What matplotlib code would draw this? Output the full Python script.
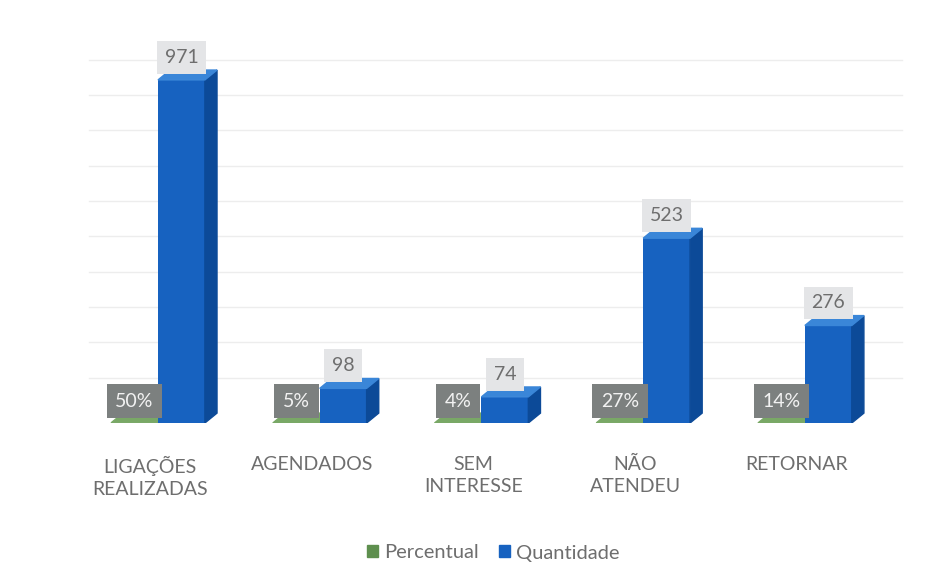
#!/usr/bin/env python3

import numpy as np
import matplotlib as mpl
mpl.use('Agg')
import matplotlib.pyplot as plt
from matplotlib.patches import Polygon, Patch

################################################################################

categorias = ["LIGAÇÕES\nREALIZADAS", "AGENDADOS", "SEM\nINTERESSE", "NÃO\nATENDEU", "RETORNAR"]
percentual = [50, 5, 4, 27, 14]           # em %
quantidade = [971, 98, 74, 523, 276]
grade = np.arange(100, 1100, 100)

################################################################################

plt.rcParams['font.family'] = ['Lato', 'DejaVu Sans']

azul = dict(front='#1762c0', side='#0c4a98', top='#3a86d8')
verde = dict(front='#5e8f4e', side='#46733a', top='#79a866')
cinza_txt = '#6e6e6e'

larg = 0.29     # largura da barra (unidades x)
dx = 0.075      # profundidade x
dy = 28         # profundidade y (unidades de dados)


def barra3d(ax, x0, h, cores, z):
    x1 = x0 + larg
    ax.bar(x0, h, width=larg, align='edge', color=cores['front'], zorder=z)
    ax.add_patch(Polygon([(x1, 0), (x1 + dx, dy), (x1 + dx, h + dy), (x1, h)],
                         closed=True, color=cores['side'], zorder=z))
    ax.add_patch(Polygon([(x0, h), (x0 + dx, h + dy), (x1 + dx, h + dy), (x1, h)],
                         closed=True, color=cores['top'], zorder=z))


fig = plt.figure(figsize=(9.52, 5.87), dpi=100)
ax = fig.add_axes([65 / 952, 1 - 423 / 587, 845 / 952, 383 / 587])

x = np.arange(len(categorias))

# linhas de grade na parede do fundo
for g in grade:
    ax.plot([-0.5 + dx, 4.6], [g + dy, g + dy], color='#ededed', lw=1.0, zorder=0)

for i in x:
    # percentual (escala de fração: praticamente plano)
    barra3d(ax, i - larg, percentual[i] / 100, verde, 2)
    barra3d(ax, i, quantidade[i], azul, 3)

    ax.text(i - larg / 2, 62, f"{percentual[i]}%", ha='center', va='center',
            fontsize=14, color='#f2f2f2', zorder=5,
            bbox=dict(boxstyle='square,pad=0.45', fc='#7c807f', ec='none'))
    ax.text(i + larg / 2, quantidade[i] + 64, f"{quantidade[i]}", ha='center',
            va='center', fontsize=14, color=cinza_txt, zorder=5,
            bbox=dict(boxstyle='square,pad=0.4', fc='#e4e5e7', ec='none'))

ax.set_xlim(-0.575, 4.65)
ax.set_ylim(0, 1084)
ax.set_xticks(x - 0.05)
ax.set_xticklabels(categorias, fontsize=14, color=cinza_txt, linespacing=1.3)
ax.tick_params(axis='x', length=0, pad=24)
ax.set_yticks([])
for s in ax.spines.values():
    s.set_visible(False)
ax.set_facecolor('none')

handles = [Patch(color=verde['front'], label='Percentual'),
           Patch(color=azul['front'], label='Quantidade')]
fig.legend(handles=handles, loc='center', bbox_to_anchor=(493 / 952, 1 - 553 / 587),
           ncol=2, frameon=False, fontsize=14.5, labelcolor=cinza_txt,
           handlelength=0.55, handleheight=0.55, handletextpad=0.3, columnspacing=1.0)

fig.savefig('out.png', dpi=100, facecolor='white')
